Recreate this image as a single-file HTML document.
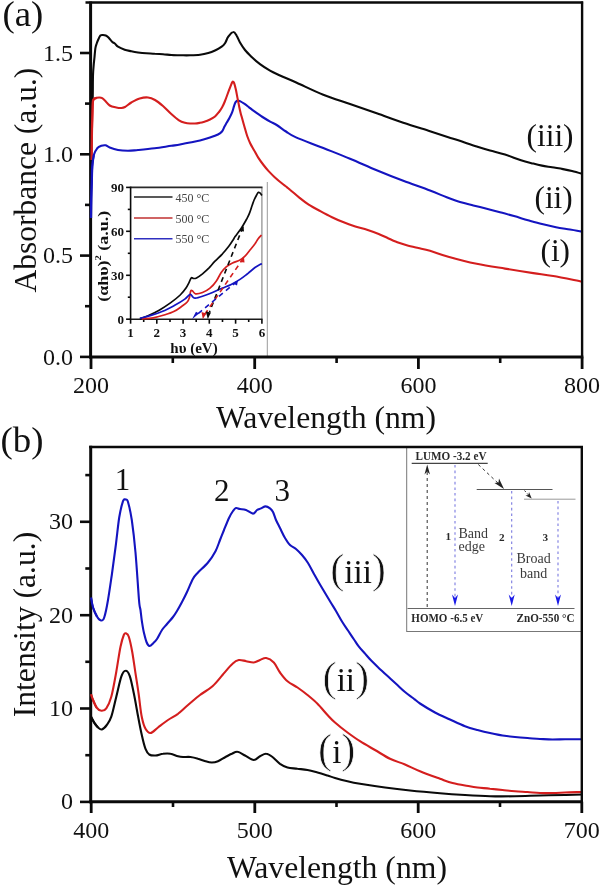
<!DOCTYPE html>
<html><head><meta charset="utf-8"><title>Figure</title>
<style>html,body{margin:0;padding:0;background:#fff;width:600px;height:886px;overflow:hidden}svg{display:block;filter:blur(0.4px)}</style>
</head><body>
<svg width="600" height="886" viewBox="0 0 600 886">
<rect width="600" height="886" fill="#fff"/>
<path d="M92.0,100.0 C92.1,99.6 92.5,101.8 92.7,97.7 C92.9,93.6 92.8,80.5 93.0,75.2 C93.2,69.9 93.3,69.1 93.6,66.1 C93.8,63.1 94.2,60.1 94.5,57.1 C94.8,54.1 95.0,50.4 95.4,48.1 C95.8,45.8 96.2,45.0 96.7,43.5 C97.2,42.0 97.9,40.3 98.5,39.0 C99.1,37.7 99.7,36.2 100.4,35.5 C101.2,34.8 102.1,35.0 103.0,35.0 C103.9,35.0 104.9,35.1 105.8,35.5 C106.7,35.9 107.5,36.4 108.5,37.4 C109.5,38.4 111.0,40.7 112.1,41.7 C113.1,42.7 113.8,42.7 114.8,43.5 C115.8,44.3 116.3,45.7 118.0,46.7 C119.7,47.7 122.5,48.9 124.7,49.7 C126.9,50.5 129.1,50.8 131.3,51.3 C133.5,51.8 135.5,52.2 138.0,52.5 C140.5,52.8 143.5,53.1 146.3,53.3 C149.1,53.5 151.9,53.6 154.7,53.8 C157.5,53.9 160.2,54.0 163.0,54.2 C165.8,54.4 168.5,54.8 171.3,55.0 C174.1,55.2 176.9,55.2 180.0,55.3 C183.1,55.3 186.7,55.4 190.0,55.3 C193.3,55.2 196.9,55.1 200.0,54.7 C203.1,54.3 205.8,53.7 208.3,53.0 C210.8,52.3 212.8,51.5 215.0,50.5 C217.2,49.5 220.0,47.9 221.7,46.7 C223.4,45.5 223.9,45.0 225.0,43.3 C226.1,41.6 226.9,38.6 228.3,36.7 C229.7,34.8 231.9,32.1 233.3,32.0 C234.7,31.8 235.6,34.0 236.7,35.8 C237.8,37.5 238.6,40.1 240.0,42.5 C241.4,44.9 243.1,47.6 245.0,50.0 C246.9,52.4 249.2,54.6 251.7,57.0 C254.2,59.4 256.9,61.9 260.0,64.2 C263.1,66.5 266.7,68.8 270.0,70.7 C273.3,72.6 275.6,73.5 280.0,75.5 C284.4,77.5 289.5,79.5 296.7,82.7 C303.9,85.9 314.4,91.2 323.3,94.7 C332.2,98.2 341.1,100.9 350.0,104.0 C358.9,107.1 367.8,110.2 376.7,113.3 C385.6,116.4 394.4,119.7 403.3,122.7 C412.2,125.7 422.5,128.8 430.0,131.2 C437.5,133.6 443.0,135.5 448.3,137.2 C453.6,138.9 457.3,140.0 462.0,141.6 C466.7,143.2 472.0,145.1 476.7,146.6 C481.4,148.1 485.3,149.3 490.0,150.6 C494.7,151.9 499.8,153.0 505.0,154.6 C510.2,156.2 516.3,158.8 521.0,160.3 C525.7,161.8 529.8,162.7 533.3,163.6 C536.8,164.5 538.9,165.0 542.0,165.6 C545.1,166.2 548.5,166.7 552.0,167.3 C555.5,167.9 559.7,168.5 563.0,169.1 C566.3,169.7 568.8,170.2 572.0,171.0 C575.2,171.8 580.3,173.3 582.0,173.8" fill="none" stroke="#0a0a0a" stroke-width="2.1" stroke-linejoin="round"/>
<path d="M91.0,218.0 C91.0,215.0 91.1,206.3 91.2,200.0 C91.3,193.7 91.6,185.6 91.8,180.0 C92.0,174.4 91.9,170.9 92.2,166.7 C92.5,162.5 93.0,158.1 93.8,155.0 C94.6,151.9 96.0,149.8 97.2,148.3 C98.5,146.8 99.9,146.3 101.3,145.8 C102.7,145.3 104.1,145.0 105.5,145.3 C106.9,145.6 107.6,146.7 109.7,147.5 C111.8,148.3 115.0,149.4 118.0,150.0 C121.0,150.6 124.7,150.8 128.0,150.8 C131.3,150.8 133.6,150.4 138.0,150.0 C142.4,149.6 149.1,149.0 154.7,148.3 C160.2,147.6 167.1,146.4 171.3,145.8 C175.5,145.2 176.9,145.1 180.0,144.5 C183.1,143.9 186.7,143.2 190.0,142.5 C193.3,141.8 196.7,141.3 200.0,140.5 C203.3,139.7 207.0,138.5 210.0,137.5 C213.0,136.5 216.0,135.5 218.0,134.5 C220.0,133.5 220.9,132.8 222.0,131.5 C223.1,130.2 223.7,128.0 224.5,126.5 C225.3,125.0 226.0,123.9 226.8,122.5 C227.6,121.1 228.4,120.0 229.3,118.3 C230.2,116.6 231.4,114.3 232.2,112.2 C233.0,110.1 233.5,107.5 234.1,105.8 C234.7,104.1 235.0,103.1 235.6,102.2 C236.2,101.3 236.8,100.7 237.5,100.5 C238.2,100.3 238.8,100.5 240.0,101.1 C241.2,101.7 243.1,102.9 244.6,103.9 C246.1,104.9 247.8,106.3 249.1,107.3 C250.4,108.3 250.1,108.2 252.3,109.8 C254.5,111.4 259.4,115.0 262.5,117.0 C265.6,119.0 268.2,120.5 270.6,121.8 C273.0,123.1 274.1,123.4 276.7,125.0 C279.3,126.6 282.8,129.4 286.0,131.5 C289.2,133.6 289.8,134.7 296.0,137.4 C302.2,140.2 314.3,144.4 323.3,148.0 C332.3,151.6 341.1,155.0 350.0,158.7 C358.9,162.4 367.8,166.5 376.7,170.2 C385.6,173.9 394.4,177.4 403.3,180.8 C412.2,184.2 422.8,187.8 430.0,190.6 C437.2,193.3 441.7,195.4 446.7,197.3 C451.7,199.2 455.6,200.7 460.0,202.0 C464.4,203.3 468.9,204.3 473.3,205.4 C477.8,206.5 482.2,207.7 486.7,208.8 C491.1,210.0 495.4,211.1 500.0,212.3 C504.6,213.5 509.3,214.8 514.0,216.1 C518.7,217.4 523.3,219.0 528.0,220.3 C532.7,221.6 537.3,222.9 542.0,224.1 C546.7,225.3 551.3,226.4 556.0,227.3 C560.7,228.2 565.7,228.8 570.0,229.5 C574.3,230.2 580.0,231.2 582.0,231.6" fill="none" stroke="#1414c0" stroke-width="2.1" stroke-linejoin="round"/>
<path d="M91.6,160.0 C91.6,156.7 91.7,146.7 91.8,140.0 C91.9,133.3 92.0,126.0 92.2,120.0 C92.4,114.0 92.5,107.4 92.7,104.0 C92.9,100.6 92.8,100.5 93.5,99.5 C94.2,98.5 95.4,98.1 96.7,97.8 C98.0,97.5 99.9,97.3 101.3,97.8 C102.7,98.2 103.5,99.2 104.9,100.5 C106.3,101.8 107.8,104.3 109.7,105.5 C111.6,106.7 114.4,107.1 116.3,107.5 C118.2,107.9 119.8,108.1 121.3,108.0 C122.8,107.9 123.3,107.9 125.0,107.0 C126.7,106.1 128.9,103.9 131.3,102.5 C133.8,101.1 136.9,99.3 139.7,98.5 C142.5,97.7 145.4,97.2 148.0,97.5 C150.6,97.8 152.5,98.6 155.0,100.0 C157.5,101.4 160.3,103.7 163.0,106.0 C165.7,108.3 168.6,111.6 171.3,114.0 C174.0,116.4 176.7,118.8 179.0,120.3 C181.3,121.8 183.2,122.3 185.0,122.8 C186.8,123.3 188.3,123.4 190.0,123.5 C191.7,123.6 193.3,123.6 195.0,123.5 C196.7,123.4 198.3,123.1 200.0,122.8 C201.7,122.5 203.3,122.0 205.0,121.5 C206.7,121.0 208.3,120.3 210.0,119.5 C211.7,118.7 213.5,117.8 215.0,116.5 C216.5,115.2 217.8,113.5 219.0,112.0 C220.2,110.5 221.0,109.2 222.0,107.5 C223.0,105.8 223.9,103.8 224.8,101.5 C225.7,99.2 226.7,96.5 227.6,94.0 C228.5,91.5 229.7,88.4 230.5,86.4 C231.3,84.4 231.8,82.5 232.4,81.9 C233.0,81.3 233.6,82.0 234.1,83.0 C234.6,84.0 235.0,86.1 235.5,88.1 C236.0,90.1 236.5,92.7 236.9,94.9 C237.3,97.1 237.7,99.1 238.1,101.1 C238.5,103.1 238.8,104.7 239.2,106.7 C239.6,108.7 240.1,110.8 240.6,112.9 C241.1,115.0 241.7,116.8 242.3,119.1 C242.9,121.4 243.6,123.7 244.4,126.5 C245.2,129.3 246.2,133.2 247.2,136.0 C248.2,138.8 249.1,141.0 250.3,143.5 C251.5,146.0 253.1,148.4 254.4,150.8 C255.8,153.2 256.9,155.5 258.4,157.9 C259.9,160.3 261.8,162.8 263.5,165.0 C265.2,167.2 266.7,169.1 268.6,171.1 C270.5,173.1 272.5,175.2 274.7,177.2 C276.9,179.2 279.9,181.8 281.8,183.3 C283.7,184.9 284.6,185.4 286.0,186.5 C287.4,187.6 287.8,187.8 290.0,189.7 C292.2,191.5 296.2,195.1 299.3,197.6 C302.4,200.1 305.2,202.3 308.7,204.6 C312.2,206.8 316.4,209.0 320.3,211.1 C324.2,213.2 328.1,215.3 332.0,217.2 C335.9,219.1 339.8,220.8 343.7,222.3 C347.6,223.9 351.4,225.2 355.3,226.5 C359.2,227.8 363.1,228.6 367.0,229.8 C370.9,231.1 375.2,232.6 378.7,234.0 C382.2,235.4 384.9,236.8 388.0,238.2 C391.1,239.6 394.2,241.0 397.3,242.2 C400.4,243.4 403.2,244.2 406.7,245.2 C410.2,246.2 414.4,247.1 418.3,248.0 C422.2,248.9 425.0,249.4 430.0,250.8 C435.0,252.2 440.5,254.5 448.3,256.7 C456.1,258.9 467.2,261.8 476.7,263.8 C486.1,265.8 495.6,267.1 505.0,268.6 C514.4,270.2 525.3,271.9 533.3,273.1 C541.3,274.3 545.1,274.6 553.2,276.0 C561.3,277.4 577.2,280.7 582.0,281.6" fill="none" stroke="#d41e1e" stroke-width="2.1" stroke-linejoin="round"/>
<rect x="94" y="182" width="173.3" height="174" fill="#fff"/>
<line x1="267.3" y1="182" x2="267.3" y2="356" stroke="#9a9a9a" stroke-width="1"/>
<line x1="261.9" y1="187.4" x2="261.9" y2="319.2" stroke="#8a8a8a" stroke-width="1.2"/>
<line x1="130.6" y1="187.4" x2="262.5" y2="187.4" stroke="#2a2a2a" stroke-width="1.6"/>
<line x1="130.6" y1="186.6" x2="130.6" y2="319.2" stroke="#0a0a0a" stroke-width="1.6"/>
<line x1="129.79999999999998" y1="319.2" x2="262.5" y2="319.2" stroke="#1a1a1a" stroke-width="1.5"/>
<line x1="130.6" y1="319.2" x2="130.6" y2="323.7" stroke="#0a0a0a" stroke-width="1.6"/>
<line x1="156.8" y1="319.2" x2="156.8" y2="323.7" stroke="#0a0a0a" stroke-width="1.6"/>
<line x1="183.1" y1="319.2" x2="183.1" y2="323.7" stroke="#0a0a0a" stroke-width="1.6"/>
<line x1="209.3" y1="319.2" x2="209.3" y2="323.7" stroke="#0a0a0a" stroke-width="1.6"/>
<line x1="235.6" y1="319.2" x2="235.6" y2="323.7" stroke="#0a0a0a" stroke-width="1.6"/>
<line x1="261.9" y1="319.2" x2="261.9" y2="323.7" stroke="#0a0a0a" stroke-width="1.6"/>
<line x1="143.7" y1="319.2" x2="143.7" y2="322.0" stroke="#0a0a0a" stroke-width="1.6"/>
<line x1="170.0" y1="319.2" x2="170.0" y2="322.0" stroke="#0a0a0a" stroke-width="1.6"/>
<line x1="196.2" y1="319.2" x2="196.2" y2="322.0" stroke="#0a0a0a" stroke-width="1.6"/>
<line x1="222.5" y1="319.2" x2="222.5" y2="322.0" stroke="#0a0a0a" stroke-width="1.6"/>
<line x1="248.7" y1="319.2" x2="248.7" y2="322.0" stroke="#0a0a0a" stroke-width="1.6"/>
<line x1="126.1" y1="319.2" x2="130.6" y2="319.2" stroke="#0a0a0a" stroke-width="1.6"/>
<line x1="126.1" y1="275.3" x2="130.6" y2="275.3" stroke="#0a0a0a" stroke-width="1.6"/>
<line x1="126.1" y1="231.3" x2="130.6" y2="231.3" stroke="#0a0a0a" stroke-width="1.6"/>
<line x1="126.1" y1="187.4" x2="130.6" y2="187.4" stroke="#0a0a0a" stroke-width="1.6"/>
<line x1="127.8" y1="297.2" x2="130.6" y2="297.2" stroke="#0a0a0a" stroke-width="1.6"/>
<line x1="127.8" y1="253.3" x2="130.6" y2="253.3" stroke="#0a0a0a" stroke-width="1.6"/>
<line x1="127.8" y1="209.4" x2="130.6" y2="209.4" stroke="#0a0a0a" stroke-width="1.6"/>
<path d="M139.9,318.9 C141.2,318.4 144.3,317.4 147.5,316.0 C150.7,314.6 155.3,312.4 159.2,310.2 C163.1,308.0 167.3,305.1 170.8,302.6 C174.3,300.1 177.7,297.4 180.2,295.0 C182.7,292.6 184.6,290.0 186.0,288.0 C187.4,286.0 188.0,284.5 188.9,282.8 C189.8,281.1 190.5,278.5 191.3,277.8 C192.1,277.1 192.7,278.5 193.6,278.5 C194.5,278.5 195.0,278.7 196.5,277.9 C198.0,277.1 200.5,275.4 202.5,273.8 C204.5,272.1 206.7,270.2 208.8,268.1 C210.8,266.0 212.7,263.6 215.0,261.2 C217.3,258.9 220.2,256.2 222.5,253.8 C224.8,251.2 227.0,248.5 228.8,246.2 C230.5,244.0 232.0,241.6 233.1,240.0 C234.2,238.4 233.6,238.7 235.1,236.6 C236.6,234.5 240.0,230.1 241.9,227.2 C243.8,224.3 245.4,221.3 246.7,219.0 C247.9,216.7 248.5,215.7 249.4,213.4 C250.3,211.2 251.3,207.7 252.1,205.5 C252.9,203.3 253.3,201.8 254.1,200.0 C254.9,198.2 256.1,196.0 256.8,194.7 C257.5,193.4 257.9,192.6 258.5,192.3 C259.1,192.1 259.6,192.7 260.2,193.2 C260.8,193.7 261.6,195.1 261.9,195.5" fill="none" stroke="#0a0a0a" stroke-width="1.7"/>
<path d="M141.7,318.9 C143.6,318.7 149.4,318.5 153.3,317.8 C157.2,317.1 161.5,315.9 165.0,314.8 C168.5,313.7 171.6,312.7 174.3,311.3 C177.0,309.9 179.2,308.2 181.3,306.7 C183.5,305.1 185.8,303.6 187.2,302.0 C188.6,300.4 188.9,299.1 189.5,297.3 C190.1,295.5 190.2,292.3 190.7,291.2 C191.2,290.1 191.6,290.4 192.4,290.8 C193.2,291.2 193.8,293.5 195.5,293.8 C197.2,294.1 200.1,293.4 202.5,292.5 C204.9,291.6 207.7,290.0 210.0,288.1 C212.3,286.2 214.4,283.9 216.2,281.2 C218.1,278.6 219.6,274.9 221.2,272.5 C222.9,270.1 224.4,268.5 226.2,266.9 C228.1,265.3 230.2,264.2 232.5,263.1 C234.8,262.0 237.9,261.1 240.0,260.0 C242.1,258.9 243.3,257.9 245.0,256.2 C246.7,254.6 248.3,252.1 250.0,250.0 C251.7,247.9 253.7,245.6 255.0,243.8 C256.3,241.9 256.9,240.5 258.0,239.0 C259.1,237.5 260.9,235.7 261.5,235.0" fill="none" stroke="#d41e1e" stroke-width="1.7"/>
<path d="M139.9,318.3 C141.8,317.8 147.2,316.6 151.0,315.4 C154.8,314.2 158.8,312.9 162.7,311.3 C166.6,309.7 170.6,307.5 174.3,305.5 C178.0,303.5 182.2,301.0 184.8,299.1 C187.4,297.2 188.7,294.7 190.1,294.4 C191.5,294.1 192.1,296.5 193.0,297.1 C193.9,297.7 193.7,298.2 195.3,298.1 C196.9,298.0 199.6,297.2 202.5,296.2 C205.4,295.3 209.2,293.9 212.5,292.5 C215.8,291.1 219.4,289.5 222.5,288.1 C225.6,286.8 228.3,285.8 231.2,284.4 C234.2,282.9 237.3,281.2 240.0,279.4 C242.7,277.6 245.0,275.7 247.5,273.8 C250.0,271.8 252.9,269.1 255.0,267.5 C257.1,265.9 258.9,265.0 260.0,264.4 C261.1,263.8 261.6,263.9 261.9,263.8" fill="none" stroke="#1414c0" stroke-width="1.7"/>
<line x1="242.9" y1="227" x2="209.5" y2="312" stroke="#0a0a0a" stroke-width="1.6" stroke-dasharray="5,4"/>
<line x1="243.3" y1="258.3" x2="205" y2="314" stroke="#d41e1e" stroke-width="1.6" stroke-dasharray="5,4"/>
<line x1="236.7" y1="281.7" x2="197" y2="314.5" stroke="#1414c0" stroke-width="1.6" stroke-dasharray="5,4"/>
<polygon points="205.8,311.5 211,312.5 207.8,319" fill="#0a0a0a"/>
<polygon points="201.5,312 206.5,313.5 202.8,319" fill="#d41e1e"/>
<polygon points="192,319.2 199,313.5 196,311.8" fill="#1414c0"/>
<polygon points="243.5,226 239.5,231 244,231.5" fill="#0a0a0a"/>
<polygon points="244,257 240,262 244.5,262.5" fill="#d41e1e"/>
<polygon points="238,280.5 233,283.5 237,285.5" fill="#1414c0"/>
<line x1="134" y1="197" x2="172.5" y2="197" stroke="#222" stroke-width="1.6"/>
<line x1="134" y1="218" x2="172.5" y2="218" stroke="#c03030" stroke-width="1.6"/>
<line x1="134" y1="238.7" x2="172.5" y2="238.7" stroke="#3030c0" stroke-width="1.6"/>
<text x="175.5" y="201.5" style="font-family:&quot;Liberation Serif&quot;,serif;font-size:12px;fill:#444">450 °C</text>
<text x="175.5" y="222.5" style="font-family:&quot;Liberation Serif&quot;,serif;font-size:12px;fill:#444">500 °C</text>
<text x="175.5" y="243" style="font-family:&quot;Liberation Serif&quot;,serif;font-size:12px;fill:#444">550 °C</text>
<text x="124.1" y="323.5" text-anchor="end" style="font-family:&quot;Liberation Serif&quot;,serif;font-size:13px;font-weight:bold;fill:#111">0</text>
<text x="124.1" y="279.6" text-anchor="end" style="font-family:&quot;Liberation Serif&quot;,serif;font-size:13px;font-weight:bold;fill:#111">30</text>
<text x="124.1" y="235.6" text-anchor="end" style="font-family:&quot;Liberation Serif&quot;,serif;font-size:13px;font-weight:bold;fill:#111">60</text>
<text x="124.1" y="191.7" text-anchor="end" style="font-family:&quot;Liberation Serif&quot;,serif;font-size:13px;font-weight:bold;fill:#111">90</text>
<text x="130.6" y="337" text-anchor="middle" style="font-family:&quot;Liberation Serif&quot;,serif;font-size:13px;font-weight:bold;fill:#111">1</text>
<text x="156.8" y="337" text-anchor="middle" style="font-family:&quot;Liberation Serif&quot;,serif;font-size:13px;font-weight:bold;fill:#111">2</text>
<text x="183.1" y="337" text-anchor="middle" style="font-family:&quot;Liberation Serif&quot;,serif;font-size:13px;font-weight:bold;fill:#111">3</text>
<text x="209.3" y="337" text-anchor="middle" style="font-family:&quot;Liberation Serif&quot;,serif;font-size:13px;font-weight:bold;fill:#111">4</text>
<text x="235.6" y="337" text-anchor="middle" style="font-family:&quot;Liberation Serif&quot;,serif;font-size:13px;font-weight:bold;fill:#111">5</text>
<text x="261.9" y="337" text-anchor="middle" style="font-family:&quot;Liberation Serif&quot;,serif;font-size:13px;font-weight:bold;fill:#111">6</text>
<text x="194" y="353.3" text-anchor="middle" style="font-family:&quot;Liberation Serif&quot;,serif;font-size:15px;font-weight:bold;fill:#111">hυ (eV)</text>
<text transform="translate(108.4,256.3) rotate(-90) scale(1.25,1)" text-anchor="middle" style="font-family:&quot;Liberation Serif&quot;,serif;font-size:14.4px;font-weight:bold;fill:#111">(αhυ)<tspan dy="-7" font-size="8.5">2</tspan><tspan dy="7"> (a.u.)</tspan></text>
<line x1="85.5" y1="2.5" x2="583.1" y2="2.5" stroke="#0a0a0a" stroke-width="2.4"/>
<line x1="582.1" y1="1.5" x2="582.1" y2="356.9" stroke="#0a0a0a" stroke-width="2.4"/>
<line x1="90.6" y1="1.5" x2="90.6" y2="358.4" stroke="#0a0a0a" stroke-width="3"/>
<line x1="89.1" y1="356.9" x2="583.3000000000001" y2="356.9" stroke="#0a0a0a" stroke-width="3"/>
<line x1="91.0" y1="356.9" x2="91.0" y2="369" stroke="#0a0a0a" stroke-width="2.8"/>
<line x1="254.7" y1="356.9" x2="254.7" y2="369" stroke="#0a0a0a" stroke-width="2.8"/>
<line x1="418.4" y1="356.9" x2="418.4" y2="369" stroke="#0a0a0a" stroke-width="2.8"/>
<line x1="582.1" y1="356.9" x2="582.1" y2="369" stroke="#0a0a0a" stroke-width="2.8"/>
<line x1="172.8" y1="356.9" x2="172.8" y2="363" stroke="#0a0a0a" stroke-width="2.6"/>
<line x1="336.6" y1="356.9" x2="336.6" y2="363" stroke="#0a0a0a" stroke-width="2.6"/>
<line x1="500.2" y1="356.9" x2="500.2" y2="363" stroke="#0a0a0a" stroke-width="2.6"/>
<line x1="80" y1="356.9" x2="90.6" y2="356.9" stroke="#0a0a0a" stroke-width="2.6"/>
<line x1="80" y1="255.6" x2="90.6" y2="255.6" stroke="#0a0a0a" stroke-width="2.6"/>
<line x1="80" y1="154.3" x2="90.6" y2="154.3" stroke="#0a0a0a" stroke-width="2.6"/>
<line x1="80" y1="53.0" x2="90.6" y2="53.0" stroke="#0a0a0a" stroke-width="2.6"/>
<line x1="85" y1="306.2" x2="90.6" y2="306.2" stroke="#0a0a0a" stroke-width="2.6"/>
<line x1="85" y1="204.9" x2="90.6" y2="204.9" stroke="#0a0a0a" stroke-width="2.6"/>
<line x1="85" y1="103.6" x2="90.6" y2="103.6" stroke="#0a0a0a" stroke-width="2.6"/>
<path d="M91.6,160.0 C91.6,156.7 91.7,146.7 91.8,140.0 C91.9,133.3 92.0,126.0 92.2,120.0 C92.4,114.0 92.5,107.4 92.7,104.0 C92.9,100.6 92.8,100.5 93.5,99.5 C94.2,98.5 96.2,98.1 96.7,97.8" fill="none" stroke="#d41e1e" stroke-width="2.3"/>
<path d="M91.0,218.0 C91.0,215.0 91.1,206.3 91.2,200.0 C91.3,193.7 91.6,185.6 91.8,180.0 C92.0,174.4 91.9,170.9 92.2,166.7 C92.5,162.5 93.5,156.9 93.8,155.0" fill="none" stroke="#1414c0" stroke-width="2.3"/>
<text x="73" y="364.6" text-anchor="end" style="font-family:&quot;Liberation Serif&quot;,serif;font-size:24px;fill:#111">0.0</text>
<text x="73" y="263.3" text-anchor="end" style="font-family:&quot;Liberation Serif&quot;,serif;font-size:24px;fill:#111">0.5</text>
<text x="73" y="162.0" text-anchor="end" style="font-family:&quot;Liberation Serif&quot;,serif;font-size:24px;fill:#111">1.0</text>
<text x="73" y="60.7" text-anchor="end" style="font-family:&quot;Liberation Serif&quot;,serif;font-size:24px;fill:#111">1.5</text>
<text x="91.0" y="392.5" text-anchor="middle" style="font-family:&quot;Liberation Serif&quot;,serif;font-size:24px;fill:#111">200</text>
<text x="254.7" y="392.5" text-anchor="middle" style="font-family:&quot;Liberation Serif&quot;,serif;font-size:24px;fill:#111">400</text>
<text x="418.4" y="392.5" text-anchor="middle" style="font-family:&quot;Liberation Serif&quot;,serif;font-size:24px;fill:#111">600</text>
<text x="582.1" y="392.5" text-anchor="middle" style="font-family:&quot;Liberation Serif&quot;,serif;font-size:24px;fill:#111">800</text>
<text x="216" y="428" style="font-family:&quot;Liberation Serif&quot;,serif;font-size:31.7px;fill:#111">Wavelength (nm)</text>
<text transform="translate(36.3,180.1) rotate(-90)" text-anchor="middle" style="font-family:&quot;Liberation Serif&quot;,serif;font-size:31.7px;fill:#111;font-size:31.5px">Absorbance (a.u.)</text>
<text x="2.5" y="26.3" style="font-family:&quot;Liberation Serif&quot;,serif;font-size:36.8px;fill:#111">(a)</text>
<text x="526.6" y="146" style="font-family:&quot;Liberation Serif&quot;,serif;font-size:31.3px;fill:#111">(iii)</text>
<text x="534.5" y="207.6" style="font-family:&quot;Liberation Serif&quot;,serif;font-size:31.3px;fill:#111">(ii)</text>
<text x="540.5" y="260.5" style="font-family:&quot;Liberation Serif&quot;,serif;font-size:31.3px;fill:#111">(i)</text>
<path d="M91.0,716.7 C91.6,717.8 93.5,721.5 94.7,723.3 C95.9,725.1 96.8,726.5 98.0,727.5 C99.2,728.5 100.3,729.9 101.8,729.5 C103.2,729.1 105.2,727.1 106.8,725.0 C108.3,722.9 109.7,721.4 111.3,716.7 C112.9,712.0 114.6,703.4 116.3,696.7 C118.0,690.0 119.8,681.0 121.3,676.7 C122.8,672.4 124.1,670.9 125.5,670.8 C126.9,670.6 128.3,672.0 129.7,675.8 C131.1,679.5 132.4,686.6 133.8,693.3 C135.2,700.0 136.7,709.0 138.0,716.0 C139.3,723.0 140.5,729.5 141.8,735.0 C143.0,740.5 144.2,745.5 145.5,748.8 C146.8,752.0 147.6,753.4 149.2,754.5 C150.9,755.6 153.2,755.6 155.5,755.5 C157.8,755.4 160.5,754.0 163.0,753.8 C165.5,753.5 168.0,753.3 170.5,753.8 C173.0,754.2 175.9,755.7 178.0,756.2 C180.1,756.8 180.9,756.9 183.0,757.0 C185.1,757.1 188.0,756.7 190.5,757.0 C193.0,757.3 195.5,758.0 198.0,758.8 C200.5,759.5 203.2,760.6 205.5,761.2 C207.8,761.9 209.7,762.5 211.8,762.5 C213.8,762.5 215.7,762.2 218.0,761.2 C220.3,760.3 223.2,758.2 225.5,757.0 C227.8,755.8 229.8,754.6 231.8,753.8 C233.8,752.9 235.3,751.5 237.5,751.8 C239.7,752.0 242.3,754.1 245.0,755.5 C247.7,756.9 251.2,759.9 253.8,760.0 C256.2,760.1 257.9,757.3 260.0,756.2 C262.1,755.2 264.2,753.6 266.2,753.8 C268.3,753.9 270.2,755.3 272.5,757.0 C274.8,758.7 277.5,762.0 280.0,763.8 C282.5,765.5 284.6,766.7 287.5,767.5 C290.4,768.3 294.2,768.3 297.5,768.8 C300.8,769.2 304.2,769.4 307.5,770.0 C310.8,770.6 314.2,771.6 317.5,772.5 C320.8,773.4 324.6,774.6 327.5,775.5 C330.4,776.4 331.7,777.0 335.0,778.0 C338.3,779.0 343.3,780.3 347.5,781.2 C351.7,782.2 353.8,782.7 360.0,783.8 C366.2,784.8 376.7,786.4 385.0,787.5 C393.3,788.6 400.8,789.5 410.0,790.5 C419.2,791.5 430.8,792.5 440.0,793.2 C449.2,794.0 456.7,794.5 465.0,795.0 C473.3,795.5 481.7,796.0 490.0,796.2 C498.3,796.5 506.7,796.4 515.0,796.2 C523.3,796.1 531.7,795.7 540.0,795.5 C548.3,795.3 558.0,795.2 565.0,795.0 C572.0,794.8 579.2,794.6 582.0,794.5" fill="none" stroke="#0a0a0a" stroke-width="2.1" stroke-linejoin="round"/>
<path d="M91.0,694.2 C91.3,695.2 92.1,697.8 93.0,700.0 C93.9,702.2 95.1,705.7 96.5,707.5 C97.9,709.3 99.9,710.7 101.5,710.8 C103.1,710.9 104.7,710.6 106.3,708.3 C107.9,705.9 109.6,702.8 111.3,696.7 C113.0,690.6 114.8,680.0 116.3,671.7 C117.8,663.4 119.2,652.8 120.5,646.7 C121.8,640.6 122.9,637.2 123.8,635.0 C124.7,632.8 125.2,633.0 126.0,633.3 C126.8,633.6 127.8,633.6 128.8,636.7 C129.8,639.8 131.1,645.6 132.2,651.7 C133.3,657.8 134.4,666.1 135.5,673.3 C136.6,680.5 137.8,687.7 138.8,695.0 C139.8,702.3 140.6,711.4 141.8,717.0 C142.9,722.6 144.0,726.1 145.5,728.8 C147.0,731.4 148.4,733.2 150.5,733.0 C152.6,732.8 155.1,729.7 158.0,727.5 C160.9,725.3 164.7,722.3 168.0,720.0 C171.3,717.7 174.7,716.2 178.0,713.8 C181.3,711.2 184.3,708.1 188.0,705.0 C191.7,701.9 195.9,698.1 200.0,695.0 C204.1,691.9 208.8,689.6 212.5,686.2 C216.2,682.9 219.2,678.8 222.5,675.0 C225.8,671.2 229.8,666.2 232.5,663.8 C235.2,661.2 236.5,660.4 238.8,660.0 C241.0,659.6 243.8,660.8 246.2,661.2 C248.8,661.7 251.5,662.7 253.8,662.5 C256.0,662.3 257.9,660.8 260.0,660.0 C262.1,659.2 264.0,657.6 266.2,658.0 C268.5,658.4 271.5,660.1 273.8,662.5 C276.0,664.9 277.7,669.4 280.0,672.5 C282.3,675.6 284.6,678.8 287.5,681.2 C290.4,683.8 294.2,685.2 297.5,687.5 C300.8,689.8 304.2,692.3 307.5,695.0 C310.8,697.7 314.2,700.4 317.5,703.8 C320.8,707.1 324.6,711.9 327.5,715.0 C330.4,718.1 331.7,719.6 335.0,722.5 C338.3,725.4 343.3,729.4 347.5,732.5 C351.7,735.6 355.4,738.3 360.0,741.2 C364.6,744.2 370.0,747.1 375.0,750.0 C380.0,752.9 385.0,756.3 390.0,758.8 C395.0,761.2 400.0,762.4 405.0,764.5 C410.0,766.6 414.2,768.9 420.0,771.2 C425.8,773.6 434.6,776.8 440.0,778.8 C445.4,780.7 448.3,781.9 452.5,783.0 C456.7,784.1 460.8,784.8 465.0,785.5 C469.2,786.2 473.3,787.0 477.5,787.5 C481.7,788.0 485.8,788.3 490.0,788.8 C494.2,789.2 498.3,789.6 502.5,790.0 C506.7,790.4 510.8,790.9 515.0,791.2 C519.2,791.6 523.3,791.7 527.5,792.0 C531.7,792.3 535.8,792.8 540.0,793.0 C544.2,793.2 548.3,793.1 552.5,793.0 C556.7,792.9 560.1,792.7 565.0,792.5 C569.9,792.3 579.2,792.1 582.0,792.0" fill="none" stroke="#d41e1e" stroke-width="2.1" stroke-linejoin="round"/>
<path d="M91.0,597.5 C91.3,599.2 92.0,604.4 93.0,607.5 C94.0,610.6 95.4,614.1 96.8,616.2 C98.1,618.4 99.8,620.3 101.0,620.5 C102.2,620.7 103.1,620.9 104.2,617.5 C105.4,614.1 106.8,607.1 108.0,600.0 C109.2,592.9 110.5,583.8 111.8,575.0 C113.0,566.2 114.2,557.1 115.5,547.5 C116.8,537.9 118.0,525.2 119.2,517.5 C120.5,509.8 122.0,504.2 123.0,501.2 C124.0,498.2 124.7,499.4 125.5,499.5 C126.3,499.6 127.0,498.6 128.0,502.0 C129.0,505.4 130.5,511.6 131.8,520.0 C133.0,528.4 134.3,539.2 135.5,552.5 C136.7,565.8 138.2,590.4 139.0,600.0 C139.8,609.6 140.0,606.3 140.5,610.0 C141.0,613.7 141.4,618.2 142.0,622.0 C142.6,625.8 143.2,629.7 144.0,633.0 C144.8,636.3 145.6,639.8 146.5,642.0 C147.4,644.2 148.4,645.8 149.5,646.0 C150.6,646.2 151.8,644.7 153.0,643.5 C154.2,642.3 155.5,641.2 157.0,639.0 C158.5,636.8 160.3,632.5 162.0,630.0 C163.7,627.5 165.2,626.2 167.0,624.0 C168.8,621.8 171.3,619.2 173.0,617.0 C174.7,614.8 175.5,613.5 177.0,611.0 C178.5,608.5 180.3,605.2 182.0,602.0 C183.7,598.8 185.2,595.9 187.0,592.0 C188.8,588.1 191.2,582.0 193.0,578.8 C194.8,575.5 195.5,575.2 198.0,572.5 C200.5,569.8 205.1,566.0 208.0,562.5 C210.9,559.0 213.5,555.0 215.5,551.2 C217.5,547.5 218.6,543.5 220.0,540.0 C221.4,536.5 222.5,533.7 224.0,530.0 C225.5,526.3 227.5,521.2 229.0,518.0 C230.5,514.8 231.8,512.7 233.0,511.0 C234.2,509.3 234.8,508.3 236.0,508.0 C237.2,507.7 238.3,508.7 240.0,509.0 C241.7,509.3 243.8,509.2 246.0,510.0 C248.2,510.8 251.2,513.6 253.0,513.6 C254.8,513.6 255.7,510.9 257.0,510.0 C258.3,509.1 259.6,509.0 261.0,508.4 C262.4,507.8 264.1,506.4 265.6,506.4 C267.1,506.4 268.8,507.5 270.0,508.4 C271.2,509.3 272.0,510.1 273.0,512.0 C274.0,513.9 274.8,517.3 276.0,520.0 C277.2,522.7 278.5,525.0 280.0,528.0 C281.5,531.0 283.3,535.2 285.0,538.0 C286.7,540.8 288.2,543.2 290.0,545.0 C291.8,546.8 294.0,547.3 296.0,549.0 C298.0,550.7 300.0,552.7 302.0,555.0 C304.0,557.3 306.0,559.8 308.0,563.0 C310.0,566.2 312.0,570.4 314.0,574.0 C316.0,577.6 317.3,580.0 320.0,584.5 C322.7,589.0 327.3,596.8 330.0,601.2 C332.7,605.7 334.0,607.6 336.0,611.0 C338.0,614.4 340.0,618.2 342.0,621.5 C344.0,624.8 346.0,627.5 348.0,630.5 C350.0,633.5 352.2,636.9 354.0,639.5 C355.8,642.1 356.8,644.0 358.5,646.2 C360.2,648.5 362.5,650.8 364.5,653.0 C366.5,655.2 368.2,657.4 370.5,659.8 C372.8,662.1 375.2,664.6 378.0,667.2 C380.8,669.9 384.0,672.8 387.0,675.5 C390.0,678.2 393.0,681.0 396.0,683.8 C399.0,686.5 402.0,689.5 405.0,692.0 C408.0,694.5 411.5,696.8 414.0,698.8 C416.5,700.7 416.5,701.2 420.0,703.5 C423.5,705.8 430.0,709.8 435.0,712.5 C440.0,715.2 445.0,717.2 450.0,719.5 C455.0,721.8 460.4,724.5 465.0,726.2 C469.6,728.0 473.3,728.9 477.5,730.0 C481.7,731.1 485.8,732.1 490.0,733.0 C494.2,733.9 498.3,734.8 502.5,735.5 C506.7,736.2 510.8,736.6 515.0,737.0 C519.2,737.4 523.3,737.7 527.5,738.0 C531.7,738.3 535.8,738.8 540.0,739.0 C544.2,739.2 548.3,739.5 552.5,739.5 C556.7,739.5 560.1,739.3 565.0,739.2 C569.9,739.2 579.2,739.2 582.0,739.2" fill="none" stroke="#1414c0" stroke-width="2.1" stroke-linejoin="round"/>
<rect x="406.7" y="447" width="175" height="184.5" fill="#fff" stroke="#777" stroke-width="1"/>
<line x1="411.7" y1="463.3" x2="487.7" y2="463.3" stroke="#444" stroke-width="1.2"/>
<line x1="476.7" y1="489.5" x2="552.5" y2="489.5" stroke="#555" stroke-width="1.2"/>
<line x1="524" y1="499.2" x2="575.5" y2="499.2" stroke="#999" stroke-width="1"/>
<line x1="407.5" y1="608.5" x2="574.5" y2="608.5" stroke="#666" stroke-width="1.2"/>
<line x1="427.2" y1="607" x2="427.2" y2="470" stroke="#333" stroke-width="1" stroke-dasharray="3,3"/>
<polygon points="427.2,464.5 424.5,474.5 427.2,471.5 430,474.5" fill="#222"/>
<line x1="455" y1="465" x2="455" y2="598" stroke="#7a7ae0" stroke-width="1.1" stroke-dasharray="2.6,3"/>
<polygon points="455,606 452,594.5 455,598 458,594.5" fill="#1a1ae8"/>
<line x1="511.7" y1="491" x2="511.7" y2="598" stroke="#7a7ae0" stroke-width="1.1" stroke-dasharray="2.6,3"/>
<polygon points="511.7,606 508.7,594.5 511.7,598 514.7,594.5" fill="#1a1ae8"/>
<line x1="558" y1="501" x2="558" y2="598" stroke="#7a7ae0" stroke-width="1.1" stroke-dasharray="2.6,3"/>
<polygon points="558,606 555,594.5 558,598 561,594.5" fill="#1a1ae8"/>
<line x1="478.3" y1="464.5" x2="500" y2="485" stroke="#333" stroke-width="1" stroke-dasharray="3,3"/>
<polygon points="504,489 494.5,483 498.5,482.5 499,478.5" fill="#222"/>
<line x1="524.5" y1="490.5" x2="529" y2="495.5" stroke="#333" stroke-width="1" stroke-dasharray="2,2"/>
<polygon points="531.7,498.5 525.5,495.5 528.5,495 529,492" fill="#222"/>
<text x="415.5" y="459.8" textLength="71" lengthAdjust="spacingAndGlyphs" style="font-family:&quot;Liberation Serif&quot;,serif;font-size:11.2px;font-weight:bold;fill:#2a2a2a;font-size:12.2px">LUMO -3.2 eV</text>
<text x="411.3" y="621.6" textLength="72" lengthAdjust="spacingAndGlyphs" style="font-family:&quot;Liberation Serif&quot;,serif;font-size:11.2px;font-weight:bold;fill:#2a2a2a;font-size:12.2px">HOMO -6.5 eV</text>
<text x="516.5" y="621.6" textLength="58" lengthAdjust="spacingAndGlyphs" style="font-family:&quot;Liberation Serif&quot;,serif;font-size:11.2px;font-weight:bold;fill:#2a2a2a;font-size:12.2px">ZnO-550 °C</text>
<text x="445.5" y="540" style="font-family:&quot;Liberation Serif&quot;,serif;font-size:11.2px;font-weight:bold;fill:#2a2a2a">1</text>
<text x="499" y="540.5" style="font-family:&quot;Liberation Serif&quot;,serif;font-size:11.2px;font-weight:bold;fill:#2a2a2a">2</text>
<text x="542.5" y="540.5" style="font-family:&quot;Liberation Serif&quot;,serif;font-size:11.2px;font-weight:bold;fill:#2a2a2a">3</text>
<text x="458.5" y="538.3" style="font-family:&quot;Liberation Serif&quot;,serif;font-size:14px;fill:#3a3a3a">Band</text>
<text x="458.5" y="550.5" style="font-family:&quot;Liberation Serif&quot;,serif;font-size:14px;fill:#3a3a3a">edge</text>
<text x="516.5" y="562.5" style="font-family:&quot;Liberation Serif&quot;,serif;font-size:14px;fill:#3a3a3a">Broad</text>
<text x="520" y="578" style="font-family:&quot;Liberation Serif&quot;,serif;font-size:14px;fill:#3a3a3a">band</text>
<line x1="89.2" y1="447.0" x2="583.0" y2="447.0" stroke="#0a0a0a" stroke-width="2.4"/>
<line x1="581.8" y1="447.0" x2="581.8" y2="801.7" stroke="#0a0a0a" stroke-width="2.4"/>
<line x1="90.7" y1="445.8" x2="90.7" y2="803.2" stroke="#0a0a0a" stroke-width="3"/>
<line x1="89.2" y1="801.7" x2="583.0" y2="801.7" stroke="#0a0a0a" stroke-width="3"/>
<line x1="91.2" y1="801.7" x2="91.2" y2="813" stroke="#0a0a0a" stroke-width="2.8"/>
<line x1="254.8" y1="801.7" x2="254.8" y2="813" stroke="#0a0a0a" stroke-width="2.8"/>
<line x1="418.2" y1="801.7" x2="418.2" y2="813" stroke="#0a0a0a" stroke-width="2.8"/>
<line x1="581.8" y1="801.7" x2="581.8" y2="813" stroke="#0a0a0a" stroke-width="2.8"/>
<line x1="173.0" y1="801.7" x2="173.0" y2="807" stroke="#0a0a0a" stroke-width="2.6"/>
<line x1="336.5" y1="801.7" x2="336.5" y2="807" stroke="#0a0a0a" stroke-width="2.6"/>
<line x1="500.0" y1="801.7" x2="500.0" y2="807" stroke="#0a0a0a" stroke-width="2.6"/>
<line x1="80" y1="801.9" x2="90.7" y2="801.9" stroke="#0a0a0a" stroke-width="2.6"/>
<line x1="80" y1="708.5" x2="90.7" y2="708.5" stroke="#0a0a0a" stroke-width="2.6"/>
<line x1="80" y1="615.2" x2="90.7" y2="615.2" stroke="#0a0a0a" stroke-width="2.6"/>
<line x1="80" y1="521.8" x2="90.7" y2="521.8" stroke="#0a0a0a" stroke-width="2.6"/>
<line x1="85.3" y1="755.2" x2="90.7" y2="755.2" stroke="#0a0a0a" stroke-width="2.6"/>
<line x1="85.3" y1="661.8" x2="90.7" y2="661.8" stroke="#0a0a0a" stroke-width="2.6"/>
<line x1="85.3" y1="568.5" x2="90.7" y2="568.5" stroke="#0a0a0a" stroke-width="2.6"/>
<line x1="85.3" y1="475.1" x2="90.7" y2="475.1" stroke="#0a0a0a" stroke-width="2.6"/>
<path d="M91.0,694.2 C91.3,695.2 92.1,697.8 93.0,700.0 C93.9,702.2 95.9,706.2 96.5,707.5" fill="none" stroke="#d41e1e" stroke-width="2.1"/>
<path d="M91.0,597.5 C91.3,599.2 92.0,604.4 93.0,607.5 C94.0,610.6 96.1,614.8 96.8,616.2" fill="none" stroke="#1414c0" stroke-width="2.1"/>
<path d="M91.0,716.7 C91.6,717.8 93.5,721.5 94.7,723.3 C95.9,725.1 97.5,726.8 98.0,727.5" fill="none" stroke="#0a0a0a" stroke-width="2.1"/>
<text x="73" y="809.4" text-anchor="end" style="font-family:&quot;Liberation Serif&quot;,serif;font-size:24px;fill:#111">0</text>
<text x="73" y="716.0" text-anchor="end" style="font-family:&quot;Liberation Serif&quot;,serif;font-size:24px;fill:#111">10</text>
<text x="73" y="622.7" text-anchor="end" style="font-family:&quot;Liberation Serif&quot;,serif;font-size:24px;fill:#111">20</text>
<text x="73" y="529.3" text-anchor="end" style="font-family:&quot;Liberation Serif&quot;,serif;font-size:24px;fill:#111">30</text>
<text x="91.2" y="838" text-anchor="middle" style="font-family:&quot;Liberation Serif&quot;,serif;font-size:24px;fill:#111">400</text>
<text x="254.8" y="838" text-anchor="middle" style="font-family:&quot;Liberation Serif&quot;,serif;font-size:24px;fill:#111">500</text>
<text x="418.2" y="838" text-anchor="middle" style="font-family:&quot;Liberation Serif&quot;,serif;font-size:24px;fill:#111">600</text>
<text x="581.8" y="838" text-anchor="middle" style="font-family:&quot;Liberation Serif&quot;,serif;font-size:24px;fill:#111">700</text>
<text x="226.9" y="878" style="font-family:&quot;Liberation Serif&quot;,serif;font-size:31.7px;fill:#111">Wavelength (nm)</text>
<text transform="translate(34.8,624.5) rotate(-90)" text-anchor="middle" style="font-family:&quot;Liberation Serif&quot;,serif;font-size:31.7px;fill:#111">Intensity (a.u.)</text>
<text x="0.6" y="452" style="font-family:&quot;Liberation Serif&quot;,serif;font-size:36.8px;fill:#111">(b)</text>
<text x="122.5" y="489.6" text-anchor="middle" style="font-family:&quot;Liberation Serif&quot;,serif;font-size:31px;fill:#111">1</text>
<text x="221.7" y="501.1" text-anchor="middle" style="font-family:&quot;Liberation Serif&quot;,serif;font-size:31px;fill:#111">2</text>
<text x="282.3" y="501.1" text-anchor="middle" style="font-family:&quot;Liberation Serif&quot;,serif;font-size:31px;fill:#111">3</text>
<text x="330.2" y="583.3" style="font-family:&quot;Liberation Serif&quot;,serif;font-size:33px;fill:#111"><tspan font-size="42.5" style="stroke:#fff;stroke-width:0.7px">(</tspan>iii<tspan font-size="42.5" style="stroke:#fff;stroke-width:0.7px">)</tspan></text>
<text x="322.5" y="691" style="font-family:&quot;Liberation Serif&quot;,serif;font-size:33px;fill:#111"><tspan font-size="42.5" style="stroke:#fff;stroke-width:0.7px">(</tspan>ii<tspan font-size="42.5" style="stroke:#fff;stroke-width:0.7px">)</tspan></text>
<text x="318" y="763" style="font-family:&quot;Liberation Serif&quot;,serif;font-size:33px;fill:#111"><tspan font-size="42.5" style="stroke:#fff;stroke-width:0.7px">(</tspan>i<tspan font-size="42.5" style="stroke:#fff;stroke-width:0.7px">)</tspan></text>
</svg>
</body></html>
